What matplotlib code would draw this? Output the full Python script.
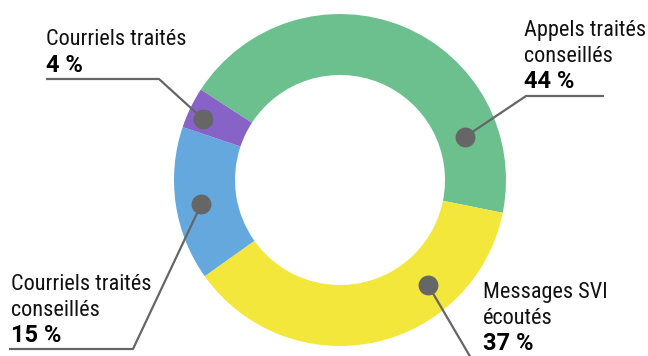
import numpy as np
import matplotlib
matplotlib.use("Agg")
import matplotlib.pyplot as plt
from matplotlib.font_manager import fontManager

# Data
categories = ["Appels traités\nconseillés", "Messages SVI\nécoutés",
              "Courriels traités\nconseillés", "Courriels traités"]
shares = [44, 37, 15, 4]
colors = ["#6bc08e", "#f4e73b", "#64a8de", "#8863c7"]

W, H = 648, 356
names = {f.name for f in fontManager.ttflist}
family = [f for f in ["Roboto Condensed", "Liberation Sans Narrow", "Liberation Sans", "DejaVu Sans"] if f in names]
bold_family = [f for f in ["Roboto", "Liberation Sans", "DejaVu Sans"] if f in names]
plt.rcParams["font.family"] = family

fig = plt.figure(figsize=(W / 100, H / 100), dpi=100)
ax = fig.add_axes([0, 0, 1, 1])

cx, cy = 340, H - 180
R, ring = 166, 61
wedges, _ = ax.pie(shares, colors=colors, startangle=147, counterclock=False,
                   center=(cx, cy), radius=R,
                   wedgeprops=dict(width=ring, linewidth=0))
ax.set_xlim(0, W)
ax.set_ylim(0, H)
ax.set_aspect("equal")
ax.axis("off")

# label layout: dot (angle, radius), elbow, line end, text anchor (x, top baseline)
layout = [
    dict(dot=(19, 132), elbow=(526, 96), end=(604, 96), text=(524, 36)),
    dict(dot=(-50, 137), elbow=(478, 370), end=(478, 370), text=(483, 298)),
    dict(dot=(190, 141), elbow=(133, 349), end=(9, 349), text=(11, 290)),
    dict(dot=(156, 150), elbow=(159, 79), end=(46, 79), text=(46, 45)),
]
line_col = "#666666"
fs = 16
lh = 26
for name, val, lay in zip(categories, shares, layout):
    a, r = lay["dot"]
    dx = cx + r * np.cos(np.radians(a))
    dy = cy + r * np.sin(np.radians(a))
    ex, ey = lay["elbow"]
    fx, fy = lay["end"]
    ax.plot([dx, ex, fx], [dy, H - ey, H - fy], color=line_col, lw=1.6,
            solid_capstyle="butt", zorder=3, clip_on=False)
    ax.scatter([dx], [dy], s=205, color=line_col, zorder=4, linewidths=0)
    tx, ty = lay["text"]
    lines = name.split("\n")
    for i, ln in enumerate(lines):
        ax.text(tx, H - (ty + i * lh), ln, fontsize=fs, color="#111111",
                ha="left", va="baseline")
    ax.text(tx, H - (ty + len(lines) * lh + 0.5), f"{val} %", fontsize=17,
            family=bold_family, fontweight="bold", color="#000000",
            ha="left", va="baseline")

fig.savefig("out.png", dpi=100, facecolor="white")
